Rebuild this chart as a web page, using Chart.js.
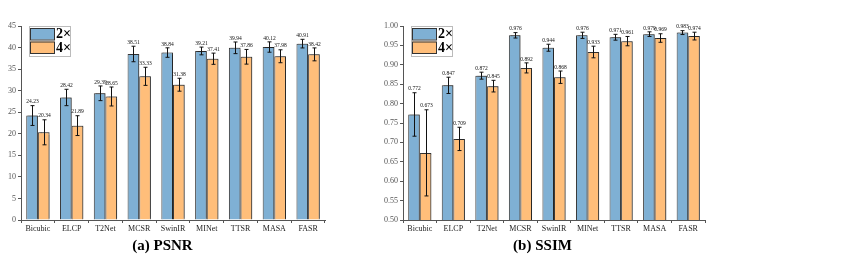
<!DOCTYPE html>
<html>
<head>
<meta charset="utf-8">
<script src="https://cdn.jsdelivr.net/npm/chart.js@4.4.1/dist/chart.umd.min.js"></script>
<style>
html, body { margin: 0; padding: 0; background: #fff; }
#wrap { position: relative; width: 867px; height: 260px; }
#wrap canvas { position: absolute; top: 0; }
</style>
</head>
<body>
<div id="wrap">
  <canvas id="psnrChart" width="340" height="260" style="left:0"></canvas>
  <canvas id="ssimChart" width="340" height="260" style="left:380px"></canvas>
</div>
<script>
const methods = ['Bicubic', 'ELCP', 'T2Net', 'MCSR', 'SwinIR', 'MINet', 'TTSR', 'MASA', 'FASR'];
const seriesNames = ['2×', '4×'];

const psnr2x = [24.23, 28.42, 29.39, 38.51, 38.84, 39.21, 39.94, 40.12, 40.91];
const psnr4x = [20.34, 21.89, 28.65, 33.33, 31.38, 37.41, 37.86, 37.98, 38.42];
const psnrErr2x = [2.3, 1.9, 1.7, 1.8, 1.1, 0.9, 1.35, 1.2, 1.0];
const psnrErr4x = [2.9, 2.3, 2.2, 2.1, 1.5, 1.3, 1.7, 1.5, 1.5];

const ssim2x = [0.772, 0.847, 0.872, 0.976, 0.944, 0.976, 0.971, 0.979, 0.983];
const ssim4x = [0.673, 0.709, 0.845, 0.892, 0.868, 0.933, 0.961, 0.969, 0.974];
const ssimErr2x = [0.056, 0.021, 0.009, 0.007, 0.009, 0.008, 0.0075, 0.006, 0.005];
const ssimErr4x = [0.111, 0.030, 0.015, 0.013, 0.016, 0.015, 0.012, 0.011, 0.010];

const blue = 'rgb(127,176,212)';
const orange = 'rgb(255,190,122)';
const serif = '"Liberation Serif", "DejaVu Serif", serif';

// bar shadow + error bars + value labels
const errorBarPlugin = {
    id: 'errorBars',
    beforeDatasetsDraw(chart) {
        const ctx = chart.ctx;
        ctx.save();
        ctx.shadowColor = 'rgba(0,0,0,0.35)';
        ctx.shadowOffsetX = 1.5;
        ctx.shadowOffsetY = -1;
        ctx.shadowBlur = 1;
    },
    afterDatasetsDraw(chart) {
        const ctx = chart.ctx;
        ctx.restore();
        const y = chart.scales.y;
        const digits = chart.options.plugins.errorBars.digits;
        ctx.save();
        ctx.strokeStyle = '#111';
        ctx.lineWidth = 1;
        ctx.fillStyle = '#111';
        ctx.font = '5.5px ' + serif;
        ctx.textAlign = 'center';
        ctx.textBaseline = 'bottom';
        chart.data.datasets.forEach((ds, i) => {
            chart.getDatasetMeta(i).data.forEach((bar, j) => {
                const v = ds.data[j], e = ds.errors[j];
                const x = Math.round(bar.x) + 0.5;
                const top = y.getPixelForValue(v + e);
                const bot = y.getPixelForValue(v - e);
                ctx.beginPath();
                ctx.moveTo(x, top); ctx.lineTo(x, bot);
                ctx.moveTo(x - 2, top); ctx.lineTo(x + 2, top);
                ctx.moveTo(x - 2, bot); ctx.lineTo(x + 2, bot);
                ctx.stroke();
                ctx.fillText(v.toFixed(digits), x, top - 1);
            });
        });
        ctx.restore();
    }
};

const boxLegendPlugin = {
    id: 'boxLegend',
    afterDraw(chart) {
        const ctx = chart.ctx;
        const a = chart.chartArea;
        const x0 = a.left + 8, y0 = a.top;
        ctx.save();
        ctx.fillStyle = '#fff';
        ctx.strokeStyle = '#bbb';
        ctx.lineWidth = 1;
        ctx.fillRect(x0, y0, 41, 30);
        ctx.strokeRect(x0 + 0.5, y0 + 0.5, 41, 30);
        const cols = [blue, orange];
        ctx.font = 'bold 14px ' + serif;
        ctx.textBaseline = 'middle';
        cols.forEach((c, i) => {
            const sy = y0 + 2 + i * 13.5;
            ctx.fillStyle = c;
            ctx.fillRect(x0 + 1.5, sy, 24, 11.5);
            ctx.strokeStyle = '#333';
            ctx.strokeRect(x0 + 1.5, sy + 0.5, 24, 11.5);
            ctx.fillStyle = '#000';
            ctx.fillText(seriesNames[i], x0 + 27, sy + 6.5);
        });
        ctx.restore();
    }
};

function makeChart(id, title, v2, v4, e2, e4, yMin, yMax, step, digits, tickDigits, yWidth) {
    const ctx = document.getElementById(id).getContext('2d');
    return new Chart(ctx, {
        type: 'bar',
        data: {
            labels: methods,
            datasets: [
                { label: seriesNames[0], data: v2, errors: e2, backgroundColor: blue, borderColor: '#3a3a3a', borderWidth: 1 },
                { label: seriesNames[1], data: v4, errors: e4, backgroundColor: orange, borderColor: '#3a3a3a', borderWidth: 1 }
            ]
        },
        options: {
            responsive: false,
            animation: false,
            datasets: { bar: { barPercentage: 1, categoryPercentage: 0.69 } },
            layout: { padding: { top: 26, right: 15, bottom: 0, left: 0 } },
            scales: {
                x: {
                    afterFit: s => { s.height = 16; },
                    grid: { drawOnChartArea: false, drawTicks: true, tickLength: 3, color: '#555', offset: true },
                    border: { display: true, color: '#555' },
                    ticks: { font: { family: serif, size: 8 }, color: '#222', padding: 1, maxRotation: 0, autoSkip: false }
                },
                y: {
                    min: yMin, max: yMax,
                    afterFit: s => { s.width = yWidth; },
                    grid: { drawOnChartArea: false, drawTicks: true, tickLength: 3, color: '#555' },
                    border: { display: true, color: '#555' },
                    ticks: { stepSize: step, font: { family: serif, size: 8 }, color: '#555', padding: 2,
                        callback: v => Number(v).toFixed(tickDigits) }
                }
            },
            plugins: {
                legend: { display: false },
                tooltip: { enabled: false },
                title: {
                    display: true, position: 'bottom', text: title, color: '#000',
                    font: { family: serif, size: 15, weight: 'bold' },
                    padding: { top: 1, bottom: 5 }
                },
                errorBars: { digits: digits }
            }
        },
        plugins: [errorBarPlugin, boxLegendPlugin]
    });
}

makeChart('psnrChart', '(a) PSNR', psnr2x, psnr4x, psnrErr2x, psnrErr4x, 0, 45, 5, 2, 0, 21);
makeChart('ssimChart', '(b) SSIM', ssim2x, ssim4x, ssimErr2x, ssimErr4x, 0.5, 1.0, 0.05, 3, 2, 23);
</script>
</body>
</html>
